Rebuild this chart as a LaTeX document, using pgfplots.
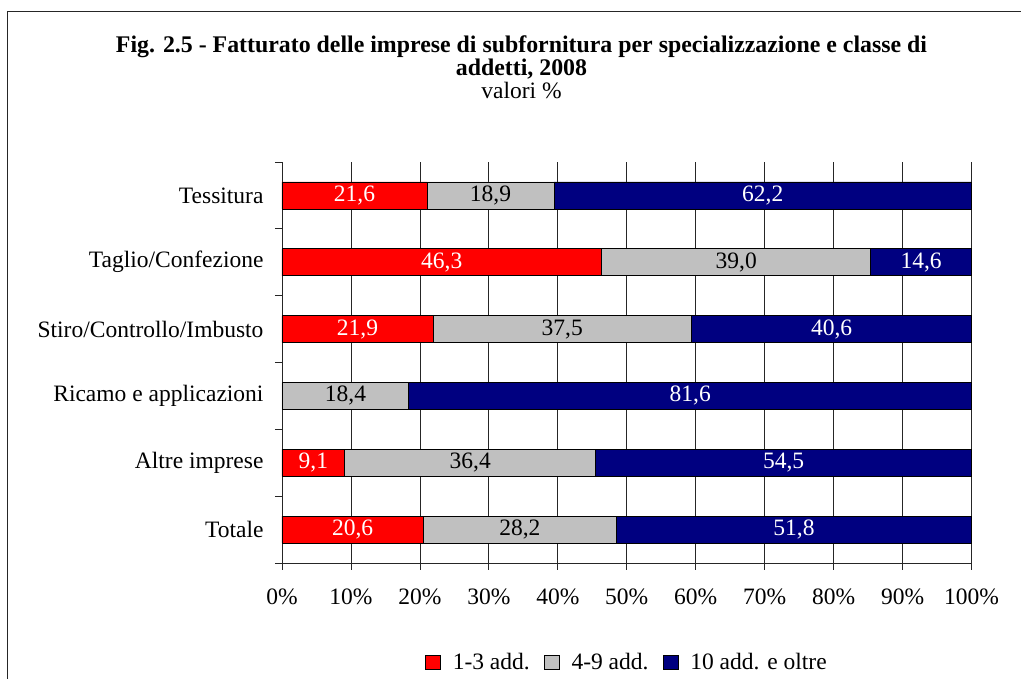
\documentclass[border=0pt]{standalone}
\usepackage{fontspec}
\setmainfont{Liberation Serif}
\usepackage{pgfplots}
\usepackage{pgfplotstable}
\pgfplotsset{compat=1.18}
\definecolor{cred}{RGB}{255,0,0}
\definecolor{cgray}{RGB}{192,192,192}
\definecolor{cnavy}{RGB}{0,0,128}

% raw values (percent), rows: Tessitura ... Totale
\pgfplotstableread{
y a b c
0 21.6 18.9 62.2
1 46.3 39.0 14.6
2 21.9 37.5 40.6
3 0 18.4 81.6
4 9.1 36.4 54.5
5 20.6 28.2 51.8
}\data

\begin{document}
\begin{tikzpicture}[font=\fontsize{23.5}{28}\selectfont, x=1pt, y=1pt]
\useasboundingbox (0,0) rectangle (1021,679);
\draw[line width=1pt, black!85] (7.5,-5) -- (7.5,667.5) -- (1030,667.5);
\node[anchor=base, font=\fontsize{23.85}{28}\selectfont\bfseries] at (521.5,626) {Fig. 2.5 - Fatturato delle imprese di subfornitura per specializzazione e classe di};
\node[anchor=base, font=\fontsize{23.85}{28}\selectfont\bfseries] at (521.5,603) {addetti, 2008};
\node[anchor=base] at (521.5,580) {valori \%};
\begin{axis}[
  at={(282pt,116pt)}, anchor=south west,
  scale only axis, width=689.7pt, height=401pt,
  xmin=0, xmax=100.02, ymin=-0.5, ymax=5.5, y dir=reverse,
  clip=false,
  xbar stacked, bar width=27pt,
  axis x line*=bottom, axis y line*=left,
  axis line style={-, black!85, line width=0.8pt},
  tick style={black!85, line width=0.8pt},
  tick align=outside, major tick length=7pt,
  xmajorgrids, major grid style={black!85, line width=0.8pt},
  xtick={0,10,...,100},
  xticklabels={0\%,10\%,20\%,30\%,40\%,50\%,60\%,70\%,80\%,90\%,100\%},
  x tick label style={yshift=-15pt},
  ytick={-0.5,0.5,...,5.5},
  yticklabels={Tessitura,Taglio/Confezione,Stiro/Controllo/Imbusto,Ricamo e applicazioni,Altre imprese,Totale,{}},
  y tick label style={yshift=-33.4pt, xshift=-8pt},
  /pgf/number format/.cd, fixed, fixed zerofill, precision=1, use comma, assume math mode=true, /pgfplots/.cd,
  point meta=explicit,
  nodes near coords={\pgfmathfloatifflags{\pgfplotspointmeta}{0}{}{\pgfmathprintnumber{\pgfplotspointmeta}}},
  nodes near coords style={anchor=center},
  legend image code/.code={\draw[#1, draw=black, line width=0.8pt] (0pt,-7pt) rectangle (15pt,7pt);},
  legend columns=3,
  legend style={draw=none, fill=none, at={(0.5,-0.247)}, anchor=center,
    /tikz/every odd column/.append style={column sep=10pt},
    /tikz/every even column/.append style={column sep=12pt}},
]
\addplot[fill=cred, draw=black, line width=0.8pt,
  every node near coord/.append style={white}]
  table[x expr={\thisrow{a}*100/(\thisrow{a}+\thisrow{b}+\thisrow{c})}, y=y, meta=a] {\data};
\addplot[fill=cgray, draw=black, line width=0.8pt,
  every node near coord/.append style={black}]
  table[x expr={\thisrow{b}*100/(\thisrow{a}+\thisrow{b}+\thisrow{c})}, y=y, meta=b] {\data};
\addplot[fill=cnavy, draw=black, line width=0.8pt,
  every node near coord/.append style={white}]
  table[x expr={\thisrow{c}*100/(\thisrow{a}+\thisrow{b}+\thisrow{c})}, y=y, meta=c] {\data};
\legend{1-3 add., 4-9 add., 10 add. e oltre}
\end{axis}
\end{tikzpicture}
\end{document}
